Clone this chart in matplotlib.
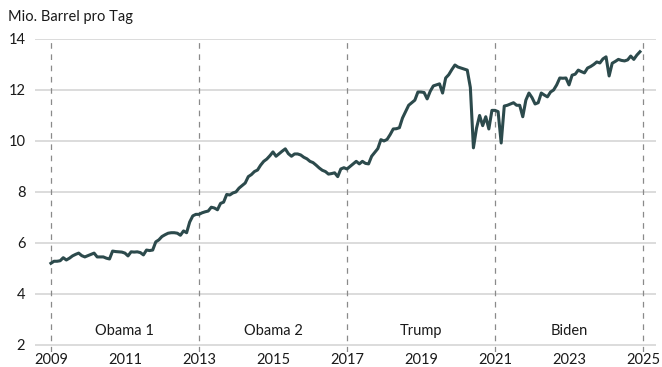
import numpy as np
import pandas as pd
import matplotlib
matplotlib.use('Agg')
import matplotlib.pyplot as plt

# US-Rohölförderung, Monatswerte in Mio. Barrel pro Tag (Jan 2009 - Dez 2024)
werte_2009 = [5.20, 5.28, 5.28, 5.30, 5.42, 5.33, 5.40, 5.49, 5.55, 5.60, 5.50, 5.45]
werte_2010 = [5.50, 5.55, 5.60, 5.45, 5.45, 5.45, 5.40, 5.37, 5.68, 5.66, 5.65, 5.64]
werte_2011 = [5.60, 5.49, 5.65, 5.64, 5.65, 5.62, 5.53, 5.72, 5.70, 5.72, 6.04, 6.12]
werte_2012 = [6.25, 6.32, 6.38, 6.40, 6.40, 6.38, 6.30, 6.47, 6.40, 6.82, 7.06, 7.12]
werte_2013 = [7.12, 7.18, 7.22, 7.25, 7.40, 7.37, 7.30, 7.55, 7.60, 7.90, 7.88, 7.96]
werte_2014 = [8.00, 8.15, 8.25, 8.35, 8.60, 8.68, 8.80, 8.86, 9.05, 9.20, 9.29, 9.42]
werte_2015 = [9.57, 9.40, 9.50, 9.60, 9.69, 9.50, 9.40, 9.49, 9.49, 9.45, 9.36, 9.30]
werte_2016 = [9.20, 9.15, 9.05, 8.94, 8.85, 8.80, 8.70, 8.72, 8.75, 8.60, 8.90, 8.95]
werte_2017 = [8.90, 9.00, 9.10, 9.20, 9.10, 9.20, 9.12, 9.10, 9.40, 9.55, 9.70, 10.05]
werte_2018 = [10.00, 10.06, 10.25, 10.47, 10.48, 10.52, 10.90, 11.15, 11.40, 11.50, 11.60, 11.92]
werte_2019 = [11.92, 11.90, 11.65, 11.95, 12.16, 12.20, 12.24, 11.88, 12.47, 12.60, 12.80, 12.98]
werte_2020 = [12.90, 12.86, 12.82, 12.78, 12.10, 9.73, 10.50, 11.00, 10.60, 10.95, 10.47, 11.20]
werte_2021 = [11.20, 11.15, 9.92, 11.37, 11.40, 11.45, 11.50, 11.40, 11.40, 10.95, 11.60, 11.88]
werte_2022 = [11.70, 11.45, 11.50, 11.88, 11.80, 11.73, 11.92, 12.00, 12.20, 12.47, 12.46, 12.47]
werte_2023 = [12.20, 12.58, 12.62, 12.78, 12.72, 12.67, 12.86, 12.92, 13.00, 13.10, 13.06, 13.22]
werte_2024 = [13.30, 12.55, 13.05, 13.12, 13.20, 13.16, 13.14, 13.18, 13.33, 13.20, 13.37, 13.50]

werte = (werte_2009 + werte_2010 + werte_2011 + werte_2012 + werte_2013 + werte_2014
         + werte_2015 + werte_2016 + werte_2017 + werte_2018 + werte_2019 + werte_2020
         + werte_2021 + werte_2022 + werte_2023 + werte_2024)
monate = pd.date_range('2009-01-01', periods=len(werte), freq='MS')
jahr = monate.year + (monate.month - 1) / 12

amtszeiten = ['Obama 1', 'Obama 2', 'Trump', 'Biden']
amtsbeginn = [2009, 2013, 2017, 2021, 2025]
jahres_ticks = [2009, 2011, 2013, 2015, 2017, 2019, 2021, 2023, 2025]
y_ticks = [2, 4, 6, 8, 10, 12, 14]

plt.rcParams['font.family'] = ['Lato', 'DejaVu Sans']

fig = plt.figure(figsize=(6.62, 3.67), dpi=100)
ax = fig.add_axes([35/662, 1 - 352/367, 621/662, 313/367])

# horizontale Gitterlinien
for y in y_ticks:
    ax.axhline(y, color='#d6d6d6', linewidth=1.2, zorder=1)

# gestrichelte Linien fuer die Amtswechsel
for x in amtsbeginn:
    ax.axvline(x, color='#8a8a8a', linewidth=0.9, linestyle=(0, (4.5, 4.5)), zorder=1)

ax.plot(jahr, werte, color='#2c4a4c', linewidth=2.2, zorder=3,
        solid_joinstyle='round')

# Namen der Amtszeiten
for i, name in enumerate(amtszeiten):
    mitte = (amtsbeginn[i] + amtsbeginn[i+1]) / 2
    ax.text(mitte, 2.55, name, ha='center', va='center', fontsize=10.5, color='#1a1a1a')

ax.set_xlim(2008.57, 2025.35)
ax.set_ylim(1.72, 14.0)
ax.set_xticks(jahres_ticks)
ax.set_yticks(y_ticks)
ax.tick_params(axis='both', length=0, labelsize=10.5, colors='#1a1a1a')
ax.tick_params(axis='y', pad=7)
ax.tick_params(axis='x', pad=1)
for s in ax.spines.values():
    s.set_visible(False)

fig.text(8/662, 1 - 17/367, 'Mio. Barrel pro Tag', ha='left', va='center',
         fontsize=10.5, color='#1a1a1a')

fig.savefig('out.png', dpi=100)
